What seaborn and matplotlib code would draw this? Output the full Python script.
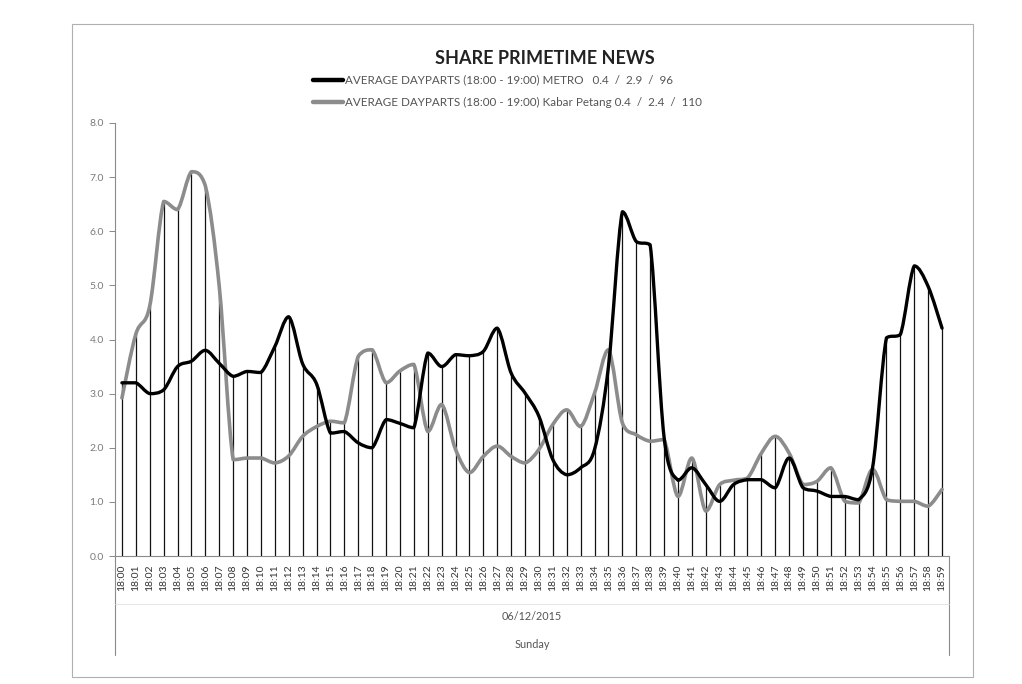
import numpy as np
import pandas as pd
import matplotlib
matplotlib.use("Agg")
import matplotlib.pyplot as plt
import seaborn as sns
from matplotlib.path import Path
from matplotlib.patches import PathPatch, Rectangle
from matplotlib.lines import Line2D

times = ["18:00", "18:01", "18:02", "18:03", "18:04", "18:05", "18:06", "18:07", "18:08", "18:09",
         "18:10", "18:11", "18:12", "18:13", "18:14", "18:15", "18:16", "18:17", "18:18", "18:19",
         "18:20", "18:21", "18:22", "18:23", "18:24", "18:25", "18:26", "18:27", "18:28", "18:29",
         "18:30", "18:31", "18:32", "18:33", "18:34", "18:35", "18:36", "18:37", "18:38", "18:39",
         "18:40", "18:41", "18:42", "18:43", "18:44", "18:45", "18:46", "18:47", "18:48", "18:49",
         "18:50", "18:51", "18:52", "18:53", "18:54", "18:55", "18:56", "18:57", "18:58", "18:59"]

metro = [3.2, 3.2, 3.0, 3.07, 3.5, 3.6, 3.8, 3.56, 3.32, 3.41,
         3.39, 3.87, 4.42, 3.55, 3.18, 2.27, 2.3, 2.09, 2.0, 2.52,
         2.45, 2.37, 3.75, 3.5, 3.72, 3.7, 3.78, 4.21, 3.38, 3.01,
         2.58, 1.78, 1.5, 1.63, 1.97, 3.5, 6.36, 5.81, 5.75, 2.2,
         1.4, 1.63, 1.32, 1.01, 1.32, 1.41, 1.41, 1.26, 1.81, 1.26,
         1.2, 1.1, 1.1, 1.04, 1.63, 4.03, 4.09, 5.36, 4.98, 4.21]

kabar = [2.92, 4.1, 4.62, 6.55, 6.4, 7.1, 6.84, 4.98, 1.78, 1.81,
         1.81, 1.72, 1.85, 2.21, 2.39, 2.49, 2.46, 3.69, 3.81, 3.2,
         3.42, 3.54, 2.3, 2.8, 1.97, 1.54, 1.84, 2.03, 1.84, 1.72,
         1.97, 2.43, 2.7, 2.39, 3.01, 3.81, 2.46, 2.24, 2.12, 2.15,
         1.1, 1.81, 0.83, 1.32, 1.4, 1.44, 1.9, 2.21, 1.9, 1.32,
         1.38, 1.63, 1.01, 0.98, 1.6, 1.04, 1.01, 1.01, 0.92, 1.23]

yticks = [0, 1, 2, 3, 4, 5, 6, 7, 8]
title = "SHARE PRIMETIME NEWS"
label_metro = "AVERAGE DAYPARTS (18:00 - 19:00) METRO   0.4  /  2.9  /  96"
label_kabar = "AVERAGE DAYPARTS (18:00 - 19:00) Kabar Petang 0.4  /  2.4  /  110"
date_label = "06/12/2015"
day_label = "Sunday"

sns.set_theme(style="white")
plt.rcParams['font.family'] = ['Lato', 'DejaVu Sans']

W, H = 1022, 684
fig = plt.figure(figsize=(W / 100, H / 100), dpi=100)
fig.patch.set_facecolor("white")

def fx(px):
    return px / W

def fy(py):
    return 1 - py / H

ax_l, ax_r, ax_t, ax_b = 115, 949, 123, 556
ax = fig.add_axes([fx(ax_l), fy(ax_b), fx(ax_r - ax_l), (ax_b - ax_t) / H])
ax.set_facecolor("white")

df = pd.DataFrame({"time": times, "METRO": metro, "Kabar Petang": kabar})
df["pos"] = np.arange(len(df))

# drop lines
ax.vlines(df["pos"], 0, df[["METRO", "Kabar Petang"]].max(axis=1),
          color="#111111", lw=0.9, zorder=1)


def smooth_path(xs, ys):
    xs = np.asarray(xs, float)
    ys = np.asarray(ys, float)
    pts = np.column_stack([xs, ys])
    n = len(pts)
    verts = [pts[0]]
    codes = [Path.MOVETO]
    for i in range(n - 1):
        p0 = pts[i - 1] if i > 0 else pts[i]
        p1 = pts[i]
        p2 = pts[i + 1]
        p3 = pts[i + 2] if i + 2 < n else pts[i + 1]
        c1 = p1 + (p2 - p0) / 6.0
        c2 = p2 - (p3 - p1) / 6.0
        lo, hi = min(p1[1], p2[1]), max(p1[1], p2[1])
        c1[1] = np.clip(c1[1], lo, hi)
        c2[1] = np.clip(c2[1], lo, hi)
        verts += [c1, c2, p2]
        codes += [Path.CURVE4] * 3
    return Path(verts, codes)


ax.add_patch(PathPatch(smooth_path(df["pos"], df["Kabar Petang"]), fill=False,
                       edgecolor="#8c8c8c", lw=2.6, zorder=3, capstyle="round", joinstyle="round"))
ax.add_patch(PathPatch(smooth_path(df["pos"], df["METRO"]), fill=False,
                       edgecolor="#000000", lw=2.4, zorder=4, capstyle="round", joinstyle="round"))

ax.set_xlim(-0.5, len(times) - 0.5)
ax.set_ylim(0, 8)

ax.set_yticks(yticks)
ax.set_yticklabels([f"{v:.1f}" for v in yticks], fontsize=7.5, color="#7a7a7a")
ax.set_xticks(df["pos"])
ax.set_xticklabels(times, rotation=90, fontsize=7.5, color="#333333")
ax.set_xticks(np.arange(-0.5, len(times), 1.0), minor=True)
ax.tick_params(axis="x", which="major", length=0, pad=6)
ax.tick_params(axis="x", which="minor", length=3.5, color="#888888", width=0.7, direction="out")
ax.tick_params(axis="y", which="major", length=4, color="#888888", width=0.7, direction="out", pad=4)
ax.tick_params(bottom=True, left=True)

for s in ["top", "right"]:
    ax.spines[s].set_visible(False)
for s in ["left", "bottom"]:
    ax.spines[s].set_color("#8a8a8a")
    ax.spines[s].set_linewidth(0.8)
ax.grid(False)

# multi-level category axis lines
for xp in (ax_l, ax_r):
    fig.add_artist(Line2D([fx(xp), fx(xp)], [fy(ax_b), fy(655)], color="#8a8a8a", lw=0.8))
fig.add_artist(Line2D([fx(ax_l), fx(ax_r)], [fy(604), fy(604)], color="#e2e2e2", lw=0.6))
fig.text(fx(532), fy(616), date_label, ha="center", va="center", fontsize=7.8, color="#555555")
fig.text(fx(532), fy(645), day_label, ha="center", va="center", fontsize=7.8, color="#555555")

# outer chart frame
fig.add_artist(Rectangle((fx(72), fy(677)), fx(973 - 72), (677 - 24) / H,
                         fill=False, edgecolor="#b0b0b0", lw=0.8))

# title and legend
fig.text(fx(545), fy(58), title, ha="center", va="center", fontsize=13,
         fontweight="bold", color="#222222")
fig.add_artist(Line2D([fx(313), fx(343)], [fy(80), fy(80)], color="#000000", lw=3.2))
fig.text(fx(345), fy(80), label_metro, ha="left", va="center", fontsize=8.4, color="#555555")
fig.add_artist(Line2D([fx(313), fx(343)], [fy(102), fy(102)], color="#8c8c8c", lw=3.2))
fig.text(fx(345), fy(102), label_kabar, ha="left", va="center", fontsize=8.4, color="#555555")

fig.savefig("out.png", dpi=100)
